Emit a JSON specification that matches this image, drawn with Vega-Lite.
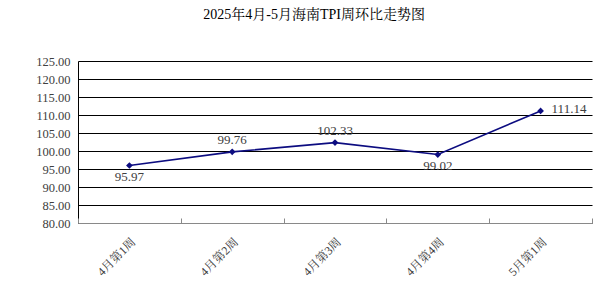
{
  "$schema": "https://vega.github.io/schema/vega-lite/v6.json",
  "autosize": {"type": "none"},
  "padding": {"left": 78, "top": 61, "right": 14, "bottom": 79},
  "width": 514,
  "height": 162,
  "background": "white",
  "title": {
    "text": "2025年4月-5月海南TPI周环比走势图",
    "font": "Liberation Serif, Noto Serif CJK SC, Noto Sans CJK SC",
    "fontSize": 14,
    "fontWeight": "normal",
    "color": "#000000",
    "offset": 33,
    "anchor": "middle",
    "frame": "bounds"
  },
  "config": {
    "view": {"stroke": null},
    "font": "Liberation Serif, Noto Serif CJK SC, Noto Sans CJK SC"
  },
  "data": {
    "values": [
      {"week": "4月第1周", "tpi": 95.97, "pos": "below"},
      {"week": "4月第2周", "tpi": 99.76, "pos": "above"},
      {"week": "4月第3周", "tpi": 102.33, "pos": "above"},
      {"week": "4月第4周", "tpi": 99.02, "pos": "below"},
      {"week": "5月第1周", "tpi": 111.14, "pos": "right"}
    ]
  },
  "encoding": {
    "x": {
      "field": "week",
      "type": "nominal",
      "sort": null,
      "scale": {"paddingInner": 0, "paddingOuter": 0},
      "axis": {
        "title": null,
        "labelAngle": -45,
        "labelFont": "Liberation Serif, Noto Serif CJK SC, Noto Sans CJK SC",
        "labelFontSize": 12,
        "labelColor": "#404040",
        "labelPadding": 18,
        "tickSize": -5,
        "tickBand": "extent",
        "tickColor": "#898989",
        "domainColor": "#898989",
        "domainWidth": 1,
        "grid": false,
        "zindex": 1
      }
    },
    "y": {
      "field": "tpi",
      "type": "quantitative",
      "scale": {"domain": [80, 125], "nice": false, "zero": false},
      "axis": {
        "title": null,
        "values": [80, 85, 90, 95, 100, 105, 110, 115, 120, 125],
        "format": ".2f",
        "labelFont": "Liberation Serif, Noto Serif CJK SC, Noto Sans CJK SC",
        "labelFontSize": 12.5,
        "labelColor": "#404040",
        "labelPadding": 8,
        "ticks": false,
        "domainColor": "#000000",
        "grid": true,
        "gridColor": "#000000",
        "gridWidth": 1,
        "gridOpacity": 1
      }
    }
  },
  "layer": [
    {
      "mark": {"type": "line", "color": "#0c0c80", "strokeWidth": 1.6}
    },
    {
      "mark": {"type": "point", "shape": "diamond", "filled": true, "color": "#0c0c80", "size": 45, "opacity": 1}
    },
    {
      "transform": [{"filter": "datum.pos === 'above'"}],
      "mark": {"type": "text", "dy": -12, "fontSize": 13, "color": "#404040", "baseline": "middle"},
      "encoding": {"text": {"field": "tpi", "type": "quantitative", "format": ".2f"}}
    },
    {
      "transform": [{"filter": "datum.pos === 'below'"}],
      "mark": {"type": "text", "dy": 11, "fontSize": 13, "color": "#404040", "baseline": "middle"},
      "encoding": {"text": {"field": "tpi", "type": "quantitative", "format": ".2f"}}
    },
    {
      "transform": [{"filter": "datum.pos === 'right'"}],
      "mark": {"type": "text", "dx": 11, "dy": -2, "align": "left", "fontSize": 13, "color": "#404040", "baseline": "middle"},
      "encoding": {"text": {"field": "tpi", "type": "quantitative", "format": ".2f"}}
    }
  ]
}
